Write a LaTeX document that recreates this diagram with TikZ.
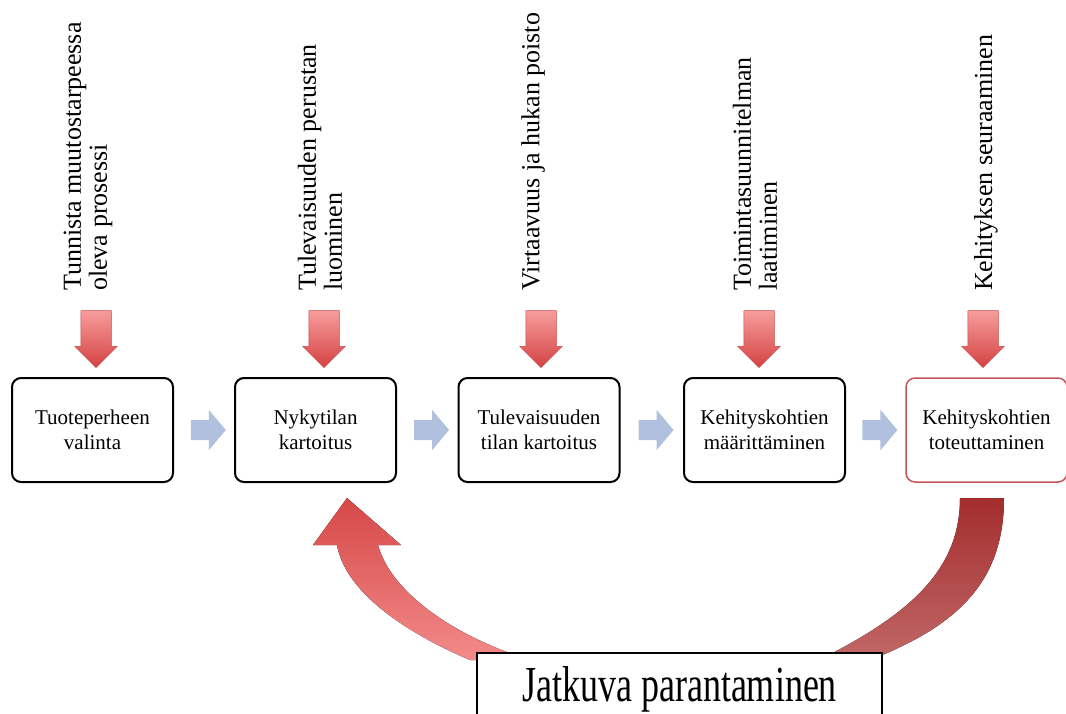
\documentclass[tikz,border=0pt]{standalone}
\usepackage{fontspec}
\setmainfont{Liberation Serif}
\usetikzlibrary{shapes.arrows, calc}
\definecolor{boxred}{RGB}{200,85,85}
\definecolor{flowblue}{RGB}{176,192,222}
\definecolor{redlight}{RGB}{247,156,156}
\definecolor{reddark}{RGB}{212,66,66}
\definecolor{rededge}{RGB}{196,74,74}
\definecolor{arcdark}{RGB}{163,45,45}
\definecolor{arclight}{RGB}{194,104,104}
\definecolor{arcred}{RGB}{214,72,72}
\definecolor{arcpink}{RGB}{243,138,138}

\begin{document}
\begin{tikzpicture}[x=1pt, y=-1pt]

	\tikzstyle{phase}=[rectangle, rounded corners=9pt, draw=black, line width=2pt, fill=white, minimum width=161pt, minimum height=104pt, align=center, font=\fontsize{21}{25}\selectfont]
	\tikzstyle{active}=[phase, draw=boxred, line width=1.5pt]
	\tikzstyle{flow}=[single arrow, fill=flowblue, inner sep=10pt, minimum width=0pt, minimum height=35pt, single arrow head extend=10pt, single arrow tip angle=100]
	\tikzstyle{inarrow}=[single arrow, shape border rotate=270, draw=rededge, line width=0.5pt, top color=redlight, bottom color=reddark, inner sep=15pt, minimum width=0pt, minimum height=57pt, single arrow head extend=6pt]
	\tikzstyle{task}=[rotate=90, anchor=west, align=left, inner sep=0pt, font=\fontsize{26}{26}\selectfont]
	\tikzstyle{loopbox}=[rectangle, draw=black, line width=2pt, fill=white, minimum width=405pt, minimum height=72pt, inner sep=0pt, anchor=north]

	\useasboundingbox (0,0) rectangle (1066,713);

	% feedback arms
	\fill[top color=arcdark, bottom color=arclight] (960,498) -- (1004,498) .. controls (1004,580) and (960,625) .. (870,660) -- (815,662) .. controls (910,615) and (960,570) .. (960,498) -- cycle;
	\fill[top color=arcred, bottom color=arcpink] (347,498) -- (401,545) -- (378,545) .. controls (390,590) and (450,635) .. (530,660) -- (470,660) .. controls (400,630) and (345,590) .. (337,545) -- (313,545) -- cycle;

	% process steps
	\node at (92.5,430) (select) [phase] {Tuoteperheen\\valinta};
	\node at (315.5,430) (current) [phase] {Nykytilan\\kartoitus};
	\node at (539,430) (future) [phase] {Tulevaisuuden\\tilan kartoitus};
	\node at (764.5,430) (define) [phase] {Kehityskohtien\\määrittäminen};
	\node at (986.5,430) (implement) [active] {Kehityskohtien\\toteuttaminen};

	\node at ($(select.east)!0.5!(current.west)$) (flow1) [flow] {};
	\node at ($(current.east)!0.5!(future.west)$) (flow2) [flow] {};
	\node at ($(future.east)!0.5!(define.west)$) (flow3) [flow] {};
	\node at ($(define.east)!0.5!(implement.west)$) (flow4) [flow] {};

	% inputs
	\node at (96,331.5) (in1) [inarrow] {};
	\node at (324,331.5) (in2) [inarrow] {};
	\node at (541,331.5) (in3) [inarrow] {};
	\node at (759,331.5) (in4) [inarrow] {};
	\node at (983,331.5) (in5) [inarrow] {};

	\node at (88,291) (task1) [task] {Tunnista muutostarpeessa\\oleva prosessi};
	\node at (320,291) (task2) [task] {Tulevaisuuden perustan\\luominen};
	\node at (533,291) (task3) [task] {Virtaavuus ja hukan poisto};
	\node at (755,291) (task4) [task] {Toimintasuunnitelman\\laatiminen};
	\node at (986,291) (task5) [task] {Kehityksen seuraaminen};

	\node at (679.5,652) (improve) [loopbox] {\scalebox{1}[1.4]{\fontsize{36}{40}\selectfont Jatkuva parantaminen}};

\end{tikzpicture}
\end{document}
